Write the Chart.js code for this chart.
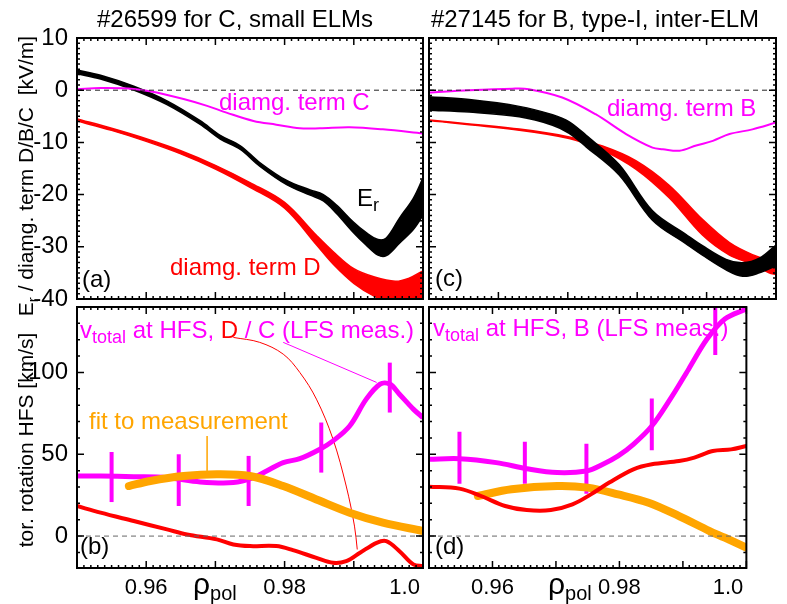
<!DOCTYPE html>
<html>
<head>
<meta charset="utf-8">
<script src="https://cdn.jsdelivr.net/npm/chart.js@4.4.1/dist/chart.umd.min.js"></script>
<style>
  body { margin: 0; background: #fff; }
  #wrap { position: relative; width: 787px; height: 604px; overflow: hidden; font-family: 'Liberation Sans', Arial, sans-serif; }
  canvas { position: absolute; left: 0; top: 0; }
  .t { position: absolute; white-space: nowrap; font-size: 24px; line-height: 1; }
  .c { transform: translateX(-50%); }
  .rot { font-size: 21px; transform: translate(-50%, -50%) rotate(-90deg); }
  .sub { font-size: 18px; position: relative; top: 5px; }
  .mag { color: #ff00ff; }
  .red { color: #ff0000; }
</style>
</head>
<body>
<div id="wrap">
  <canvas id="pa" width="787" height="604"></canvas>
  <canvas id="pc" width="787" height="604"></canvas>
  <canvas id="pb" width="787" height="604"></canvas>
  <canvas id="pd" width="787" height="604"></canvas>

  <div class="t c" style="left:235px; top:7px;">#26599 for C, small ELMs</div>
  <div class="t c" style="left:595px; top:7px;">#27145 for B, type-I, inter-ELM</div>

  <div class="t rot" style="left:25px; top:176px;">E<span class="sub" style="font-size:15px">r</span> / diamg. term D/B/C&nbsp;&nbsp;[kV/m]</div>
  <div class="t rot" style="left:25px; top:440px;">tor. rotation HFS [km/s]</div>

  <div class="t mag" style="left:219px; top:90px;">diamg. term C</div>
  <div class="t" style="left:357px; top:186px;">E<span class="sub">r</span></div>
  <div class="t red" style="left:170px; top:255px;">diamg. term D</div>
  <div class="t" style="left:82px; top:267px;">(a)</div>

  <div class="t mag" style="left:607px; top:96px;">diamg. term B</div>
  <div class="t" style="left:435px; top:266px;">(c)</div>

  <div class="t mag" style="left:80px; top:318px;">v<span class="sub">total</span> at HFS, <span class="red">D</span> / C (LFS meas.)</div>
  <div class="t" style="left:89px; top:409px; color:#ffa500;">fit to measurement</div>
  <div class="t" style="left:80px; top:534px;">(b)</div>

  <div class="t mag" style="left:433px; top:316px;">v<span class="sub">total</span> at HFS, B (LFS meas.)</div>
  <div class="t" style="left:435px; top:534px;">(d)</div>

  <div class="t" style="left:193px; top:569px; font-size:30px;">&rho;<span class="sub" style="font-size:20px; top:6px;">pol</span></div>
  <div class="t" style="left:548px; top:569px; font-size:30px;">&rho;<span class="sub" style="font-size:20px; top:6px;">pol</span></div>
</div>

<script>
// axes
const rhoRange = [0.95, 1.0];
const xMajorTicks = [0.95, 0.96, 0.97, 0.98, 0.99, 1.0];
const xTickValues = [0.96, 0.98, 1.0];
const xTickText = ['0.96', '0.98', '1.0'];
const yTicksEr = [-40, -30, -20, -10, 0, 10];
const yTicksV = [0, 50, 100];

// (a) #26599: Er and diamagnetic terms D, C  [kV/m]
const erA_rho = [0.950, 0.9534, 0.9582, 0.9630, 0.9678, 0.9707, 0.9736, 0.9764, 0.9803, 0.9837, 0.9856, 0.9875, 0.9899, 0.9918, 0.9935, 0.9947, 0.9966, 0.9986, 1.000];
const erA_mid = [3.5, 2.5, 0.4, -2.4, -6.2, -9.0, -11.0, -14.2, -17.7, -19.6, -20.6, -22.8, -26.2, -28.5, -30.1, -30.0, -26.9, -23.7, -20.4];
const erA_half = [0.35, 0.35, 0.35, 0.35, 0.35, 0.35, 0.35, 0.35, 0.4, 0.5, 0.6, 0.8, 1.0, 1.2, 1.5, 1.7, 2.4, 3.0, 3.6];

const dA_rho = [0.950, 0.955, 0.960, 0.965, 0.970, 0.975, 0.980, 0.9846, 0.987, 0.990, 0.993, 0.996, 0.998, 1.000];
const dA_mid = [-5.7, -7.5, -9.55, -11.9, -14.75, -18.15, -22.05, -28.7, -32.1, -35.6, -37.65, -38.8, -38.5, -37.8];
const dA_half = [0.2, 0.2, 0.25, 0.3, 0.35, 0.45, 0.55, 0.9, 1.2, 1.4, 1.85, 2.2, 2.5, 3.2];

const cA_rho = [0.950, 0.9534, 0.9582, 0.9615, 0.9654, 0.9688, 0.9716, 0.9755, 0.9788, 0.9822, 0.9851, 0.9894, 0.9942, 1.000];
const cA_val = [0.2, 0.4, 0.25, -0.45, -1.7, -3.0, -4.3, -5.9, -6.6, -7.3, -7.3, -7.1, -7.5, -8.3];

// (c) #27145: Er and diamagnetic terms D, B  [kV/m]
const bC_rho = [0.950, 0.9558, 0.962, 0.9644, 0.9692, 0.974, 0.9784, 0.9822, 0.9837, 0.9861, 0.9885, 0.9909, 0.9933, 0.9966, 1.000];
const bC_val = [-0.45, 0.0, 0.3, 0.2, -1.4, -4.6, -8.4, -11.0, -11.3, -11.6, -10.6, -9.7, -8.4, -7.5, -6.2];

const erC_rho = [0.950, 0.9558, 0.963, 0.9678, 0.9702, 0.9726, 0.9774, 0.9822, 0.987, 0.9894, 0.9928, 0.9952, 0.9976, 1.000];
const erC_mid = [-2.55, -3.0, -4.1, -5.7, -7.15, -9.7, -15.25, -24.0, -28.5, -30.7, -33.4, -34.35, -33.6, -31.65];
const erC_half = [1.3, 1.2, 1.0, 1.0, 1.1, 1.1, 1.0, 0.9, 0.9, 0.9, 1.0, 1.3, 1.4, 2.0];

const dC_rho = [0.950, 0.963, 0.9702, 0.975, 0.9798, 0.9846, 0.9894, 0.9933, 0.9966, 0.999, 1.000];
const dC_mid = [-5.75, -7.55, -9.1, -11.1, -14.3, -19.4, -26.25, -30.4, -32.4, -33.75, -34.0];
const dC_half = [0.05, 0.1, 0.15, 0.4, 0.8, 1.2, 1.5, 1.2, 0.9, 1.25, 1.3];

// (b) #26599: toroidal rotation HFS [km/s]
const magB_rho = [0.950, 0.9534, 0.9582, 0.963, 0.9678, 0.9726, 0.9755, 0.9774, 0.9798, 0.9822, 0.9851, 0.987, 0.9894, 0.9918, 0.9938, 0.9952, 0.9966, 0.9986, 1.000];
const magB_val = [36.7, 36.7, 36.3, 35.7, 33.1, 32.7, 35.7, 39.8, 44.9, 47.3, 53.1, 58.2, 67.3, 83.7, 92.9, 92.9, 86.7, 77.6, 72.4];
const errB_rho = [0.955, 0.9647, 0.9748, 0.9853, 0.9952];
const errB_lo = [20.8, 18.4, 18.4, 38.8, 75.5];
const errB_hi = [51.4, 50.0, 49.0, 69.4, 106.0];
const fitB_rho = [0.9575, 0.9606, 0.9654, 0.9702, 0.975, 0.9798, 0.9846, 0.9894, 0.9942, 1.000];
const fitB_val = [30.6, 33.7, 36.7, 37.8, 36.7, 30.6, 22.4, 14.3, 8.2, 3.1];
const redB_rho = [0.950, 0.9534, 0.9582, 0.963, 0.9659, 0.9702, 0.9726, 0.975, 0.9788, 0.9812, 0.9846, 0.987, 0.9889, 0.9909, 0.9933, 0.9947, 0.9966, 0.9986, 1.000];
const redB_val = [18.4, 14.3, 9.2, 4.1, 1.0, -2.0, -5.1, -6.1, -6.1, -8.6, -13.3, -16.3, -15.3, -10.2, -4.1, -3.1, -9.2, -17.3, -18.4];
// pointer lines from the labels
const annMag_rho = [0.9798, 0.9933];
const annMag_val = [118.4, 93.9];
const annRed_rho = [0.9726, 0.9764, 0.9798, 0.9822, 0.9846, 0.987, 0.9889, 0.9901, 0.9905];
const annRed_val = [121.4, 118.4, 111.2, 100, 83.7, 59.2, 30.6, 6.1, -8.2];
const annFit_rho = [0.9688, 0.9688];
const annFit_val = [61.2, 39.8];

// (d) #27145: toroidal rotation HFS [km/s]
const magD_rho = [0.950, 0.9548, 0.9606, 0.9654, 0.9702, 0.9748, 0.9774, 0.9798, 0.9822, 0.9851, 0.988, 0.9909, 0.9938, 0.9966, 1.000];
const magD_val = [46.9, 47.3, 44.9, 41.2, 38.8, 39.8, 43.9, 49.0, 56.1, 67.3, 83.7, 102.0, 120.4, 132.7, 138.8];
const errD_rho = [0.9548, 0.9651, 0.9748, 0.9851, 0.9951];
const errD_lo = [32.0, 32.0, 25.9, 52.4, 110.6];
const errD_hi = [63.7, 57.6, 56.5, 84.1, 145.0];
const redD_rho = [0.950, 0.9548, 0.9582, 0.962, 0.9654, 0.9692, 0.9726, 0.9755, 0.9784, 0.9822, 0.9851, 0.9894, 0.9918, 0.9947, 0.9976, 1.000];
const redD_val = [30.2, 29.0, 24.5, 18.4, 15.9, 15.9, 19.4, 25.5, 32.7, 40.8, 43.9, 45.9, 48.0, 52.0, 53.0, 55.1];
const fitD_rho = [0.9577, 0.963, 0.9702, 0.975, 0.9798, 0.9846, 0.9894, 0.9942, 0.9966, 1.000];
const fitD_val = [24.5, 28.6, 30.6, 29.6, 25.5, 20.4, 12.2, 3.1, -1.0, -7.1];

const W = 787, H = 604;
const FONT = "'Liberation Sans', Arial, sans-serif";
const MAG = '#ff00ff', RED = '#ff0000', ORANGE = '#ffa500', BLACK = '#000000';

function pts(xs, ys) {
  return xs.map((x, i) => ({ x: x, y: ys[i] }));
}

function line(xs, ys, color, width, extra) {
  return Object.assign({
    data: pts(xs, ys), showLine: true, borderColor: color, backgroundColor: color,
    borderWidth: width, pointRadius: 0, tension: 0.35, fill: false, clip: 0
  }, extra || {});
}

// thick scattered profile: lower and upper edge, filled in between
function band(xs, mid, half, color) {
  return [
    line(xs, mid.map((m, i) => m - half[i]), color, 1.5),
    line(xs, mid.map((m, i) => m + half[i]), color, 1.5, { fill: '-1' })
  ];
}

function errorBars(xs, lo, hi, color) {
  return xs.map((x, i) => line([x, x], [lo[i], hi[i]], color, 4, { tension: 0, borderCapStyle: 'butt' }));
}

function zeroLine(color) {
  return line(rhoRange, [0, 0], color, 1, { borderDash: [5, 4], tension: 0 });
}

// box with inward ticks on all four sides
function frame(yMajor, yMinor) {
  return {
    id: 'frame',
    afterDatasetsDraw(chart) {
      const { ctx, chartArea: a, scales: { x, y } } = chart;
      ctx.save();
      ctx.strokeStyle = '#000';
      ctx.lineWidth = 1.5;
      ctx.beginPath();
      const xt = (v, len) => {
        const p = x.getPixelForValue(v);
        ctx.moveTo(p, a.bottom); ctx.lineTo(p, a.bottom - len);
        ctx.moveTo(p, a.top); ctx.lineTo(p, a.top + len);
      };
      const yt = (v, len) => {
        const p = y.getPixelForValue(v);
        ctx.moveTo(a.left, p); ctx.lineTo(a.left + len, p);
        ctx.moveTo(a.right, p); ctx.lineTo(a.right - len, p);
      };
      for (let v = rhoRange[0]; v <= rhoRange[1] + 1e-9; v += 0.001) xt(v, 3);
      xMajorTicks.forEach(v => xt(v, 7));
      for (let v = Math.ceil(y.min / yMinor) * yMinor; v <= y.max + 1e-9; v += yMinor) yt(v, 3);
      yMajor.forEach(v => yt(v, 7));
      ctx.stroke();
      ctx.lineWidth = 2;
      ctx.strokeRect(a.left, a.top, a.width, a.height);
      ctx.restore();
    }
  };
}

function makePanel(id, area, yMin, yMax, yTicks, yMinor, showY, showX, datasets) {
  const yW = showY ? 70 : 0;
  const xH = showX ? 30 : 0;
  new Chart(document.getElementById(id), {
    type: 'scatter',
    data: { datasets: datasets },
    options: {
      responsive: false,
      animation: false,
      events: [],
      layout: { padding: { left: area.l - yW, top: area.t, right: W - area.r, bottom: H - area.b - xH } },
      plugins: { legend: { display: false }, tooltip: { enabled: false }, filler: { propagate: false } },
      scales: {
        x: {
          type: 'linear', min: rhoRange[0], max: rhoRange[1],
          grid: { display: false, drawTicks: false }, border: { display: false },
          afterBuildTicks: s => { s.ticks = xTickValues.map(v => ({ value: v })); },
          afterFit: s => { s.height = xH; },
          ticks: {
            display: showX, padding: 7, color: '#000', autoSkip: false, maxRotation: 0,
            font: { family: FONT, size: 22 },
            // last label is pulled left of the 1.0 tick, as in the original
            callback: (v, i) => i === xTickText.length - 1 ? xTickText[i] + '\u00a0'.repeat(6) : xTickText[i]
          }
        },
        y: {
          type: 'linear', min: yMin, max: yMax,
          grid: { display: false, drawTicks: false }, border: { display: false },
          afterBuildTicks: s => { s.ticks = yTicks.map(v => ({ value: v })); },
          afterFit: s => { s.width = yW; },
          ticks: { display: showY, padding: 9, color: '#000', autoSkip: false, font: { family: FONT, size: 24 }, callback: v => String(v) }
        }
      }
    },
    plugins: [frame(yTicks, yMinor)]
  });
}

makePanel('pa', { l: 77, t: 38, r: 423, b: 299 }, -40, 10, yTicksEr, 1, true, false, [
  zeroLine('#222'),
  ...band(dA_rho, dA_mid, dA_half, RED),
  line(cA_rho, cA_val, MAG, 2),
  ...band(erA_rho, erA_mid, erA_half, BLACK)
]);

makePanel('pc', { l: 429, t: 38, r: 776, b: 299 }, -40, 10, yTicksEr, 1, false, false, [
  zeroLine('#222'),
  line(bC_rho, bC_val, MAG, 2),
  ...band(erC_rho, erC_mid, erC_half, BLACK),
  ...band(dC_rho, dC_mid, dC_half, RED)
]);

makePanel('pb', { l: 77, t: 307, r: 423, b: 568 }, -19.5, 140, yTicksV, 10, true, true, [
  zeroLine('#666'),
  line(redB_rho, redB_val, RED, 4),
  line(fitB_rho, fitB_val, ORANGE, 8, { borderCapStyle: 'round' }),
  line(magB_rho, magB_val, MAG, 5),
  ...errorBars(errB_rho, errB_lo, errB_hi, MAG),
  line(annMag_rho, annMag_val, MAG, 1, { tension: 0 }),
  line(annRed_rho, annRed_val, RED, 1),
  line(annFit_rho, annFit_val, ORANGE, 1.5, { tension: 0 })
]);

makePanel('pd', { l: 429, t: 307, r: 776, b: 568 }, -19.5, 140, yTicksV, 10, false, true, [
  zeroLine('#666'),
  line(redD_rho, redD_val, RED, 4),
  line(fitD_rho, fitD_val, ORANGE, 8, { borderCapStyle: 'round' }),
  line(magD_rho, magD_val, MAG, 5),
  ...errorBars(errD_rho, errD_lo, errD_hi, MAG)
]);
</script>
</body>
</html>
